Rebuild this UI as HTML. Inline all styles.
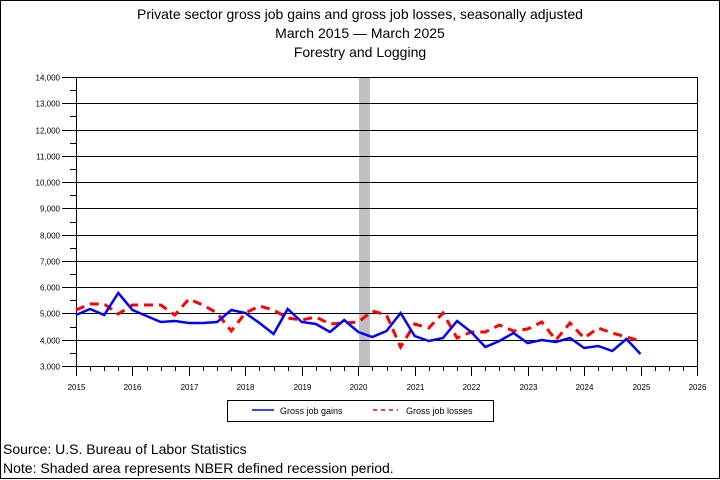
<!DOCTYPE html>
<html><head><style>body{margin:0;background:#fff}svg{display:block}text{font-family:"Liberation Sans",sans-serif}</style></head><body>
<svg width="720" height="480" xmlns="http://www.w3.org/2000/svg">
<rect x="0.5" y="0.5" width="719" height="478" fill="#fff" stroke="#000"/>
<text x="360" y="19" font-size="14" text-anchor="middle">Private sector gross job gains and gross job losses, seasonally adjusted</text>
<text x="360" y="38" font-size="14" text-anchor="middle">March 2015 — March 2025</text>
<text x="360" y="57" font-size="14" text-anchor="middle">Forestry and Logging</text>
<rect x="359" y="77" width="11" height="289" fill="#c0c0c0"/>
<g id="grid" stroke="#000" stroke-width="1"></g>
<g id="lab" font-size="8" text-anchor="end"></g>
<g id="xl" font-size="8" text-anchor="middle"></g>
<polyline id="loss" fill="none" stroke="#f00" stroke-width="3" stroke-dasharray="9,6"/>
<polyline id="gain" fill="none" stroke="#00f" stroke-width="2.5"/>
<rect x="227.5" y="400.5" width="266" height="21" fill="none" stroke="#000"/>
<line x1="252" y1="410" x2="274" y2="410" stroke="#00f" stroke-width="1.5"/>
<text x="280" y="414" font-size="9">Gross job gains</text>
<line x1="373" y1="410" x2="398" y2="410" stroke="#f00" stroke-width="1.5" stroke-dasharray="4,4"/>
<text x="406" y="414" font-size="9">Gross job losses</text>
<text x="3" y="454" font-size="14">Source: U.S. Bureau of Labor Statistics</text>
<text x="3" y="473" font-size="14">Note: Shaded area represents NBER defined recession period.</text>
</svg>
<script>
var ns="http://www.w3.org/2000/svg",g=document.getElementById('grid'),lab=document.getElementById('lab'),xl=document.getElementById('xl');
function L(x1,y1,x2,y2){var l=document.createElementNS(ns,'line');l.setAttribute('x1',x1);l.setAttribute('y1',y1);l.setAttribute('x2',x2);l.setAttribute('y2',y2);g.appendChild(l);}
function T(p,x,y,s){var t=document.createElementNS(ns,'text');t.setAttribute('x',x);t.setAttribute('y',y);t.textContent=s;p.appendChild(t);}
var yTop=77,bot=366,X0=76,X1=697,st=(bot-yTop)/11;
for(var k=0;k<=11;k++){var y=Math.round(yTop+k*st)+0.5;L(62,y,X1,y);T(lab,60,y+3,(14-k)+',000');if(k<11){var ym=Math.round(yTop+(k+0.5)*st)+0.5;L(70,ym,76,ym);}}
L(X0+.5,yTop,X0+.5,bot);L(X1+.5,yTop,X1+.5,bot);
var q=(X1-X0)/44;
for(var i=0;i<=44;i++){var x=Math.round(X0+i*q)+.5;L(x,bot,x,i%4==0?376:371);if(i%4==0)T(xl,x,390,2015+i/4);}
var G=[315,309,315,293,310,316,322,321,323,323,322,310,313,323,334,309,322,324,332,320,332,337,331,313,336,341,338,321,332,347,341,333,343,340,342,338,348,346,351,339,354];
var Ls=[310,304,304,314,305,305,305,315,299,305,313,331,313,306,310,318,320,317,324,323,322,311,315,347,324,328,313,338,332,332,325,331,329,322,340,323,338,328,333,337,341];
function P(a){return a.map(function(v,i){return (X0+i*q).toFixed(1)+','+v}).join(' ');}
document.getElementById('gain').setAttribute('points',P(G));
document.getElementById('loss').setAttribute('points',P(Ls));
</script>
</body></html>
